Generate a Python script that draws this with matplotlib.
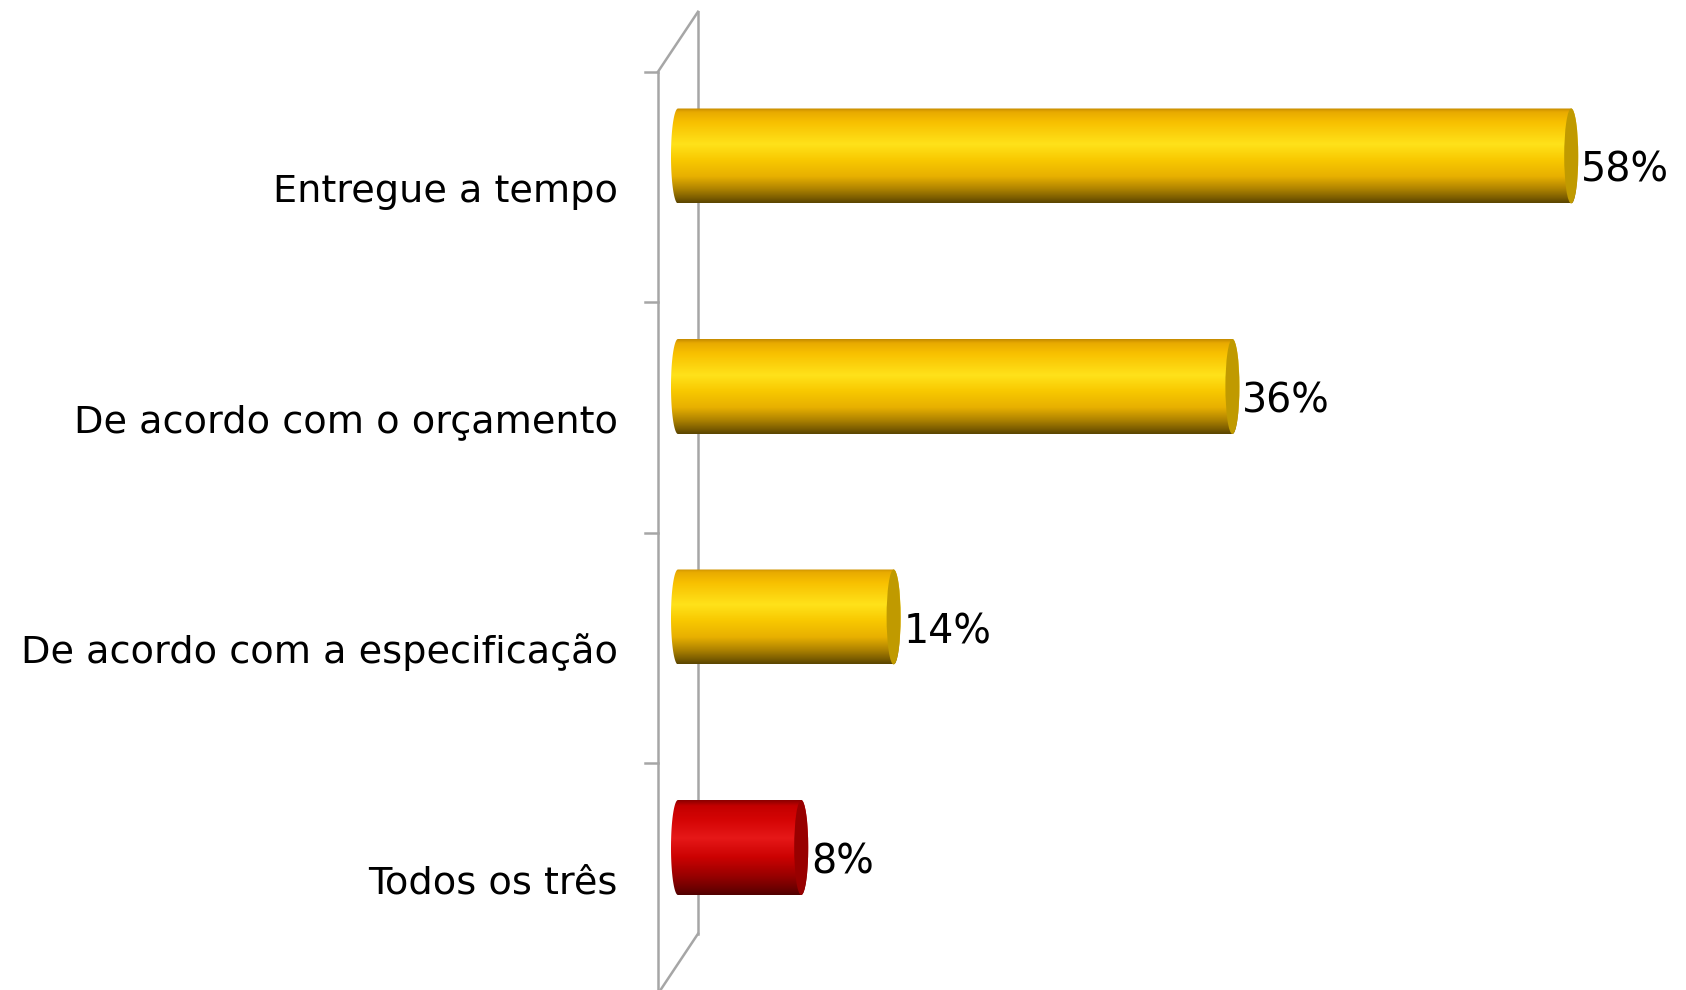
import numpy as np
import matplotlib
matplotlib.use('Agg')
import matplotlib.pyplot as plt
from matplotlib.path import Path
from matplotlib.patches import PathPatch, Ellipse
from matplotlib.colors import LinearSegmentedColormap

# ---- data ----
categories = ["Entregue a tempo", "De acordo com o orçamento",
              "De acordo com a especificação", "Todos os três"]
values = [58, 36, 14, 8]
value_labels = ["58%", "36%", "14%", "8%"]
highlight = [False, False, False, True]

# ---- styling ----
gold_stops = [(0.0, "#c48a00"), (0.04, "#e8aa00"), (0.15, "#f8c000"), (0.38, "#ffe21a"),
              (0.55, "#f8c800"), (0.72, "#e8b000"), (0.85, "#b08400"), (0.95, "#7a5c00"),
              (1.0, "#5a4400")]
red_stops = [(0.0, "#8a0000"), (0.06, "#c40000"), (0.2, "#d40404"), (0.4, "#e61818"),
             (0.6, "#cc0202"), (0.8, "#980000"), (0.93, "#6e0000"), (1.0, "#500000")]
gold_face = "#c09a00"
red_face = "#980000"
wall_color = "#a6a6a6"

W, H = 1686, 990
fig = plt.figure(figsize=(W / 100, H / 100), dpi=100)
ax = fig.add_axes([0, 0, 1, 1])
ax.axis('off')

x0_px, ppx = 678, 15.4          # pixel of value 0, pixels per percent
row_px, row0_px = 230.5, 187     # pixels per category row, first row centre
xlim = (-x0_px / ppx, (W - x0_px) / ppx)
ylim = ((H - row0_px) / row_px, -row0_px / row_px)

n = len(categories)
depth_dx = 40 / ppx       # wall depth in x units
depth_dy = -60 / row_px   # wall depth in y units
front_x = -depth_dx / 2
back_x = depth_dx / 2

# side wall (left plane)
top, bot = -0.5, n - 0.5
lw = 1.8
ax.plot([front_x, front_x], [top, bot], color=wall_color, lw=lw, zorder=1, solid_capstyle='butt')
ax.plot([back_x, back_x], [top + depth_dy, bot + depth_dy], color=wall_color, lw=lw, zorder=1)
ax.plot([front_x, back_x], [top, top + depth_dy], color=wall_color, lw=lw, zorder=1)
ax.plot([front_x, back_x], [bot, bot + depth_dy], color=wall_color, lw=lw, zorder=1)
tick_len = 13 / ppx
for k in range(n + 1):
    yb = k - 0.5
    ax.plot([front_x - tick_len, front_x], [yb, yb], color=wall_color, lw=lw, zorder=1)

rx = 7 / ppx
hh = 47.5 / row_px
dz = -31 / row_px
t_r = np.linspace(-np.pi / 2, np.pi / 2, 60)
t_l = np.linspace(np.pi / 2, 3 * np.pi / 2, 60)

for i, (cat, v, lab, hl) in enumerate(zip(categories, values, value_labels, highlight)):
    c = i + dz
    stops = red_stops if hl else gold_stops
    face = red_face if hl else gold_face
    cmap = LinearSegmentedColormap.from_list("g%d" % i, stops)
    xs = np.concatenate([[0, v], v + rx * np.cos(t_r), [v, 0], rx * np.cos(t_l)])
    ys = np.concatenate([[c - hh, c - hh], c + hh * np.sin(t_r), [c + hh, c + hh], c + hh * np.sin(t_l)])
    verts = np.column_stack([xs, ys])
    path = Path(np.vstack([verts, verts[:1]]), closed=True)
    patch = PathPatch(path, facecolor='none', edgecolor='none', zorder=2)
    ax.add_patch(patch)
    grad = np.linspace(0, 1, 256).reshape(-1, 1)
    im = ax.imshow(grad, cmap=cmap, extent=[-rx, v + rx, c + hh, c - hh],
                   origin='upper', aspect='auto', interpolation='bicubic', zorder=2)
    im.set_clip_path(patch)
    ax.add_patch(Ellipse((v, c), 2 * rx, 2 * hh, facecolor=face, edgecolor='none', zorder=3))
    ax.text(v + rx + 3 / ppx, c + 26 / row_px, lab, ha='left', va='baseline',
            fontsize=28.5, color='black', family='DejaVu Sans', zorder=4)
    ax.text(-60 / ppx, i + 15 / row_px, cat, ha='right', va='baseline',
            fontsize=27.5, color='black', family='DejaVu Sans', zorder=4)

ax.set_xlim(*xlim)
ax.set_ylim(*ylim)
fig.savefig("out.png", dpi=100, facecolor='white')
